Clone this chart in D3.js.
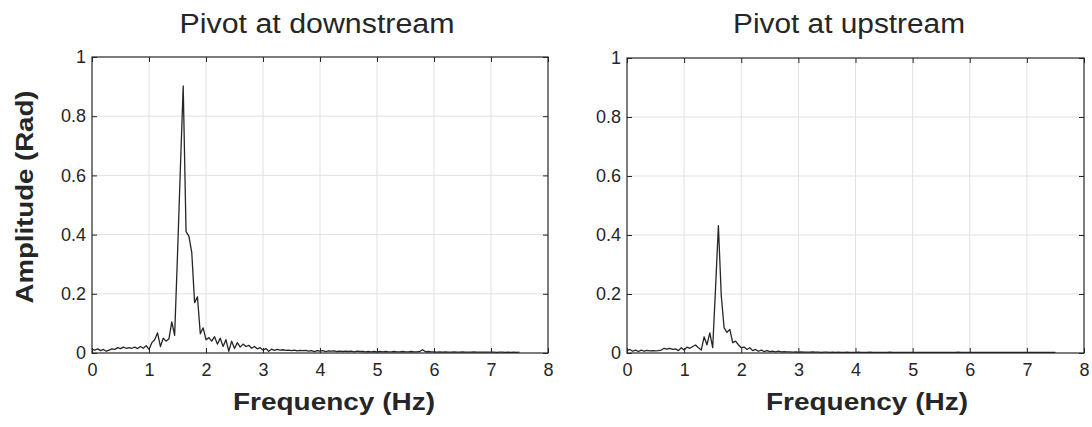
<!DOCTYPE html>
<html>
<head>
<meta charset="utf-8">
<script src="https://cdn.jsdelivr.net/npm/d3@7"></script>
<style>
  body { margin: 0; background: #fff; }
  svg { display: block; }
  text { font-family: "Liberation Sans", Arial, Helvetica, sans-serif; fill: #262626; }
</style>
</head>
<body>
<svg id="fig" width="1092" height="427"></svg>
<script>
// FFT amplitude spectra of the pivot angle, sampled every FREQ_STEP Hz from 0 to 7.5 Hz
const FREQ_STEP = 0.05;
const xTicks = [0, 1, 2, 3, 4, 5, 6, 7, 8];
const yTicks = [0, 0.2, 0.4, 0.6, 0.8, 1];
const yTickLabels = ["0", "0.2", "0.4", "0.6", "0.8", "1"];
const panelTitles = ["Pivot at downstream", "Pivot at upstream"];
const xLabel = "Frequency (Hz)";
const yLabel = "Amplitude (Rad)";

const ampDownstream = [
  0.012, 0.010, 0.014, 0.008, 0.012, 0.006, 0.010, 0.014, 0.012, 0.018,
  0.015, 0.020, 0.016, 0.018, 0.016, 0.020, 0.015, 0.022, 0.016, 0.025,
  0.012, 0.035, 0.045, 0.068, 0.022, 0.050, 0.040, 0.048, 0.105, 0.060,
  0.330, 0.620, 0.902, 0.410, 0.395, 0.340, 0.170, 0.190, 0.065, 0.085,
  0.045, 0.052, 0.040, 0.055, 0.030, 0.050, 0.022, 0.045, 0.006, 0.040,
  0.015, 0.035, 0.020, 0.030, 0.022, 0.026, 0.016, 0.022, 0.014, 0.018,
  0.010, 0.015, 0.006, 0.013, 0.009, 0.012, 0.010, 0.011, 0.009, 0.010,
  0.008, 0.010, 0.007, 0.009, 0.008, 0.009, 0.006, 0.008, 0.005, 0.008,
  0.006, 0.008, 0.005, 0.007, 0.006, 0.007, 0.005, 0.006, 0.005, 0.006,
  0.005, 0.006, 0.004, 0.006, 0.005, 0.005, 0.004, 0.005, 0.004, 0.005,
  0.004, 0.005, 0.004, 0.005, 0.004, 0.004, 0.005, 0.004, 0.004, 0.005,
  0.004, 0.004, 0.005, 0.004, 0.004, 0.005, 0.011, 0.004, 0.005, 0.004,
  0.004, 0.003, 0.004, 0.003, 0.004, 0.003, 0.003, 0.004, 0.003, 0.003,
  0.004, 0.003, 0.003, 0.003, 0.004, 0.003, 0.003, 0.003, 0.003, 0.003,
  0.003, 0.003, 0.002, 0.003, 0.003, 0.002, 0.003, 0.002, 0.003, 0.002,
  0.003
];

const ampUpstream = [
  0.008, 0.012, 0.006, 0.010, 0.005, 0.010, 0.006, 0.009, 0.007, 0.008,
  0.007, 0.008, 0.010, 0.016, 0.013, 0.016, 0.012, 0.014, 0.008, 0.018,
  0.010, 0.020, 0.016, 0.022, 0.027, 0.018, 0.010, 0.055, 0.028, 0.068,
  0.018, 0.220, 0.432, 0.195, 0.085, 0.070, 0.080, 0.035, 0.040, 0.028,
  0.018, 0.020, 0.012, 0.018, 0.008, 0.012, 0.006, 0.010, 0.005, 0.008,
  0.005, 0.006, 0.004, 0.006, 0.004, 0.005, 0.004, 0.004, 0.003, 0.004,
  0.003, 0.004, 0.003, 0.003, 0.003, 0.004, 0.003, 0.003, 0.002, 0.003,
  0.003, 0.002, 0.003, 0.002, 0.003, 0.002, 0.002, 0.003, 0.002, 0.002,
  0.002, 0.003, 0.002, 0.002, 0.002, 0.003, 0.002, 0.002, 0.002, 0.002,
  0.002, 0.002, 0.003, 0.002, 0.002, 0.002, 0.002, 0.002, 0.002, 0.002,
  0.002, 0.002, 0.002, 0.002, 0.002, 0.002, 0.002, 0.002, 0.002, 0.002,
  0.002, 0.002, 0.002, 0.002, 0.002, 0.002, 0.003, 0.002, 0.002, 0.002,
  0.002, 0.002, 0.002, 0.002, 0.002, 0.002, 0.002, 0.002, 0.002, 0.002,
  0.002, 0.002, 0.002, 0.002, 0.002, 0.002, 0.002, 0.002, 0.002, 0.002,
  0.002, 0.002, 0.002, 0.002, 0.002, 0.002, 0.002, 0.002, 0.002, 0.002,
  0.002
];

const svg = d3.select("#fig");

const panels = [
  { left: 92, right: 548, top: 57, bottom: 353, data: ampDownstream, title: panelTitles[0],
    titleX: 317, titleW: 275, xlabX: 334, showY: true },
  { left: 627, right: 1084, top: 58, bottom: 353, data: ampUpstream, title: panelTitles[1],
    titleX: 849, titleW: 232, xlabX: 867, showY: false }
];

panels.forEach(p => {
  const x = d3.scaleLinear().domain([0, 8]).range([p.left, p.right]);
  const y = d3.scaleLinear().domain([0, 1]).range([p.bottom, p.top]);
  const g = svg.append("g");

  // grid
  g.append("g").selectAll("line").data(xTicks.slice(1, -1)).join("line")
    .attr("x1", d => x(d)).attr("x2", d => x(d))
    .attr("y1", p.top).attr("y2", p.bottom)
    .attr("stroke", "#e1e1e1").attr("stroke-width", 1);
  g.append("g").selectAll("line").data(yTicks.slice(1, -1)).join("line")
    .attr("y1", d => y(d)).attr("y2", d => y(d))
    .attr("x1", p.left).attr("x2", p.right)
    .attr("stroke", "#e1e1e1").attr("stroke-width", 1);

  // spectrum
  const line = d3.line()
    .x((d, i) => x(i * FREQ_STEP))
    .y(d => y(d));
  g.append("path").datum(p.data)
    .attr("d", line)
    .attr("fill", "none")
    .attr("stroke", "#262626")
    .attr("stroke-width", 1.3)
    .attr("stroke-linejoin", "round");

  // axes with inward ticks
  const ax = (axis, tx, ty) => {
    const a = g.append("g").attr("transform", `translate(${tx},${ty})`).call(axis);
    a.select(".domain").remove();
    a.selectAll(".tick line").attr("stroke", "#262626");
    return a;
  };
  const bottom = ax(d3.axisBottom(x).tickValues(xTicks).tickSizeInner(-5).tickSizeOuter(0)
      .tickPadding(10).tickFormat(d3.format("d")), 0, p.bottom);
  bottom.selectAll("text").style("font-size", "18px").attr("fill", "#262626");
  ax(d3.axisTop(x).tickValues(xTicks).tickSizeInner(-5).tickSizeOuter(0).tickFormat(""), 0, p.top);
  const left = ax(d3.axisLeft(y).tickValues(yTicks).tickSizeInner(-5).tickSizeOuter(0)
      .tickPadding(6).tickFormat((d, i) => yTickLabels[i]), p.left, 0);
  left.selectAll("text").style("font-size", "18px").attr("fill", "#262626");
  ax(d3.axisRight(y).tickValues(yTicks).tickSizeInner(-5).tickSizeOuter(0).tickFormat(""), p.right, 0);

  // box
  g.append("rect")
    .attr("x", p.left).attr("y", p.top)
    .attr("width", p.right - p.left).attr("height", p.bottom - p.top)
    .attr("fill", "none").attr("stroke", "#262626").attr("stroke-width", 1.2);

  // title
  g.append("text")
    .attr("x", p.titleX).attr("y", 33)
    .attr("text-anchor", "middle")
    .attr("textLength", p.titleW).attr("lengthAdjust", "spacingAndGlyphs")
    .style("font-size", "27px")
    .text(p.title);

  // x label
  g.append("text")
    .attr("x", p.xlabX).attr("y", 410)
    .attr("text-anchor", "middle")
    .attr("textLength", 202).attr("lengthAdjust", "spacingAndGlyphs")
    .style("font-size", "24px").style("font-weight", "bold")
    .text(xLabel);

  if (p.showY) {
    g.append("text")
      .attr("transform", "translate(33,197) rotate(-90)")
      .attr("text-anchor", "middle")
      .attr("textLength", 213).attr("lengthAdjust", "spacingAndGlyphs")
      .style("font-size", "24px").style("font-weight", "bold")
      .text(yLabel);
  }
});
</script>
</body>
</html>
